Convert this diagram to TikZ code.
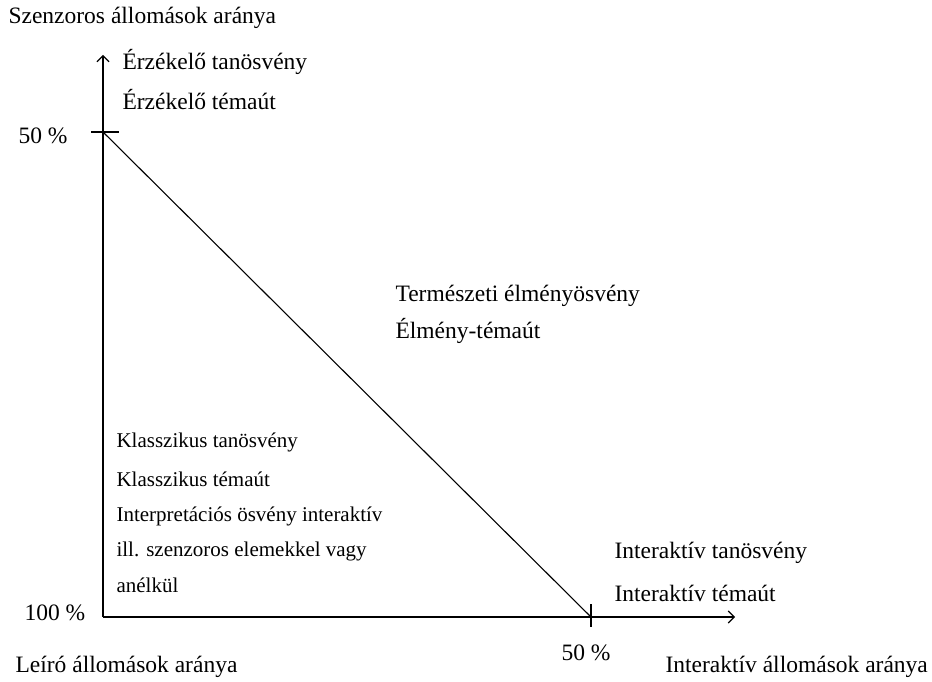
\documentclass[tikz,border=0pt]{standalone}
\usepackage{fontspec}
\setmainfont{Liberation Serif}
\usetikzlibrary{arrows.meta}
\tikzset{
	lbl/.style={inner sep=0pt,anchor=west,font=\fontsize{23.5}{28}\selectfont},
	small/.style={inner sep=0pt,anchor=west,font=\fontsize{21}{25}\selectfont},
	axis/.style={-{Straight Barb[length=6pt,width=12pt]}}
}
\begin{document}
\begin{tikzpicture}[x=1pt,y=-1pt,line width=1.1pt]
		\useasboundingbox (0,0) rectangle (932,682);
		\coordinate (o) at (103,617);
		\coordinate (ytip) at (103,55);
		\coordinate (xtip) at (735,617);
		\coordinate (ymid) at (103,132);
		\coordinate (xmid) at (591,617);
		\draw[axis] (o)--(ytip);
		\draw[axis] (o)--(xtip);
		\draw (ymid)++(-12,0)--++(28,0);
		\draw (xmid)++(0,-13)--++(0,23);
		\draw (ymid)--(xmid);
		\node[lbl] (yname) at (8,18) {Szenzoros állomások aránya};
		\node[lbl] (sens1) at (122,62) {Érzékelő tanösvény};
		\node[lbl] (sens2) at (122,100) {Érzékelő témaút};
		\node[lbl] (yhalf) at (18,136) {50 \%};
		\node[lbl] (nat1) at (395,296) {Természeti élményösvény};
		\node[lbl] (nat2) at (395,331) {Élmény-témaút};
		\node[small] (cl1) at (116,442) {Klasszikus tanösvény};
		\node[small] (cl2) at (116,479) {Klasszikus témaút};
		\node[small] (cl3) at (116,516) {Interpretációs ösvény interaktív};
		\node[small] (cl4) at (116,551) {ill. szenzoros elemekkel vagy};
		\node[small] (cl5) at (116,585) {anélkül};
		\node[lbl] (int1) at (614,553) {Interaktív tanösvény};
		\node[lbl] (int2) at (614,593) {Interaktív témaút};
		\node[lbl] (yfull) at (24,613) {100 \%};
		\node[lbl] (xhalf) at (561,653) {50 \%};
		\node[lbl] (desc) at (15,667) {Leíró állomások aránya};
		\node[lbl] (xname) at (665,667) {Interaktív állomások aránya};
		\end{tikzpicture}
\end{document}
